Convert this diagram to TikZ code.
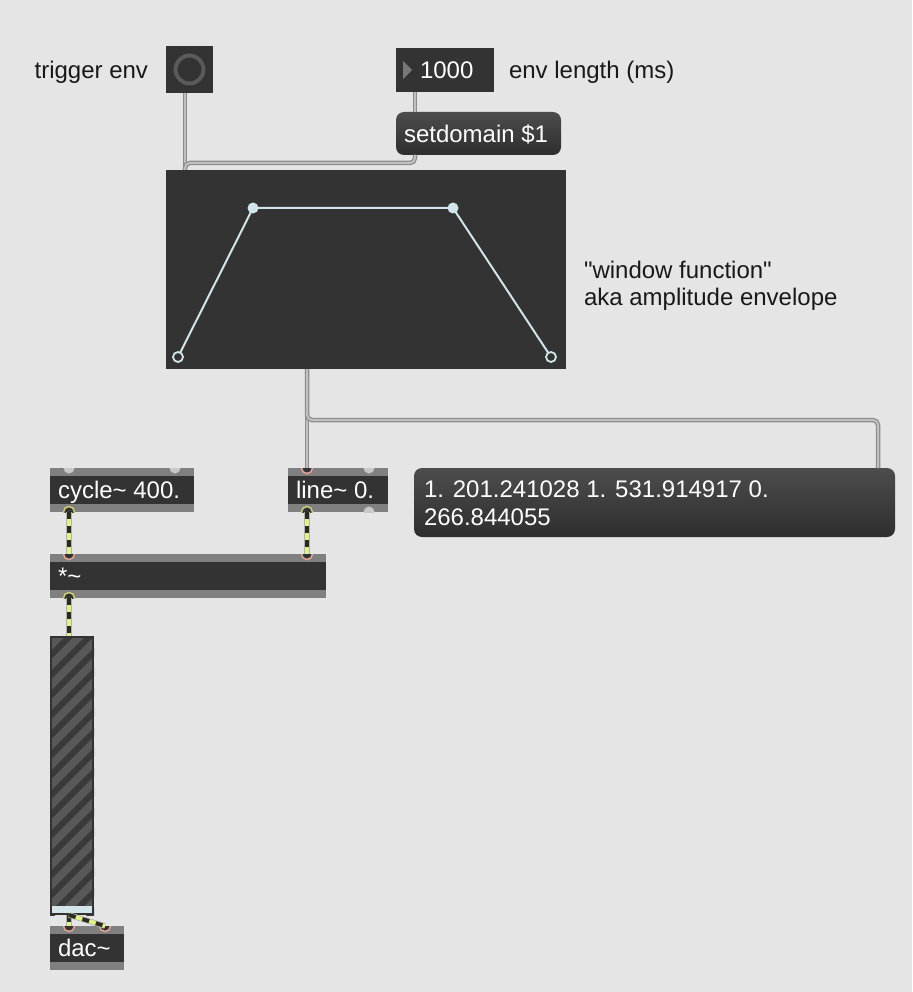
\documentclass[tikz,border=0pt]{standalone}
\usepackage{fontspec}
\setmainfont{Liberation Sans}
\usetikzlibrary{calc}
\definecolor{patchbg}{RGB}{229,229,229}
\definecolor{objdark}{RGB}{51,51,51}
\definecolor{objstrip}{RGB}{128,128,128}
\definecolor{portoff}{RGB}{200,200,200}
\definecolor{inring}{RGB}{232,164,150}
\definecolor{outring}{RGB}{206,206,120}
\definecolor{envline}{RGB}{208,228,234}
\definecolor{cableout}{RGB}{140,140,140}
\definecolor{cablein}{RGB}{192,192,192}
\definecolor{sigyellow}{RGB}{222,242,140}
\definecolor{sigdark}{RGB}{42,45,30}
\definecolor{meterfill}{RGB}{88,88,88}
\definecolor{meterstripe}{RGB}{58,58,58}
\definecolor{meterlow}{RGB}{212,228,234}
\definecolor{btnring}{RGB}{90,90,90}
\definecolor{numtri}{RGB}{120,120,120}
\tikzset{x=1pt, y=-1pt,
  patch font/.style={font=\fontsize{24}{28}\selectfont},
  comment/.style={patch font, text=black!90, inner sep=0pt, outer sep=0pt, anchor=base west},
  obj text/.style={patch font, text=white, inner sep=0pt, outer sep=0pt, anchor=base west},
  dark box/.style={fill=objdark, inner sep=0pt, outer sep=0pt, anchor=north west},
  max box/.style={fill=objstrip, inner sep=0pt, outer sep=0pt, minimum height=44pt, anchor=north west,
    path picture={\fill[objdark] ([yshift=-8pt]path picture bounding box.north west)
      rectangle ([yshift=8pt]path picture bounding box.south east);}},
  msg box/.style={inner sep=0pt, outer sep=0pt, anchor=north west, rounded corners=8pt,
    top color=black!70, bottom color=black!82},
  port off/.style={fill=portoff, draw=none},
  port in/.style={fill=objdark, draw=inring, line width=1.5pt},
  port out/.style={fill=objdark, draw=outring, line width=1.5pt},
  patch cable/.style={preaction={draw=cableout, line width=4.5pt, rounded corners=5pt},
    draw=cablein, line width=2pt, rounded corners=5pt},
  signal cable/.style={preaction={draw=black!30, line width=5.5pt},
    preaction={draw=sigyellow, line width=4pt},
    draw=sigdark, line width=4pt, dash pattern=on 7pt off 7pt},
  env point/.style={fill=envline},
  env open/.style={fill=objdark, draw=envline, line width=1.8pt}
}
\def\MaxObj#1#2#3#4#5{% name, x, y, width, text
  \node[max box, minimum width=#4] (#1) at (#2,#3) {};
  \node[obj text] (#1-label) at ([xshift=8pt, yshift=-8.6pt]#1.west) {#5};
}
\def\Port#1#2#3#4{% box, anchor, shift, style
  \begin{scope}
    \clip (#1.north west) rectangle (#1.south east);
    \filldraw[#4] ([xshift=#3]#1.#2) circle (5.5);
  \end{scope}
}
\begin{document}
\begin{tikzpicture}
\useasboundingbox (0,0) rectangle (912,992);
\fill[patchbg] (0,0) rectangle (912,992);

\node[dark box, minimum size=47pt] (btn) at (166,46) {};
\draw[btnring, line width=4pt] (btn.center) circle (14);
\node[comment, anchor=base east] (trig) at ([xshift=-18pt, yshift=-8.6pt]btn.west) {trigger env};

\node[dark box, minimum width=98pt, minimum height=44pt] (num) at (396,48) {};
\fill[numtri] ([xshift=7pt, yshift=9pt]num.west) -- ([xshift=16pt]num.west) -- ([xshift=7pt, yshift=-9pt]num.west) -- cycle;
\node[obj text] (num-label) at ([xshift=24pt, yshift=-8.6pt]num.west) {1000};
\node[comment] (envlen) at ([xshift=15pt, yshift=-8.6pt]num.east) {env length (ms)};

\node[msg box, minimum width=165pt, minimum height=43pt] (setd) at (396,112) {};
\node[obj text] (setd-label) at ([xshift=8pt, yshift=-8.6pt]setd.west) {setdomain \$1};

\node[dark box, minimum width=400pt, minimum height=199pt] (env) at (166,170) {};
\coordinate (p1) at (178,357);
\coordinate (p2) at (253,208);
\coordinate (p3) at (453,208);
\coordinate (p4) at (551,357);
\draw[envline, line width=2pt] (p1) -- (p2) -- (p3) -- (p4);
\foreach \p in {p2,p3}
  \fill[env point] (\p) circle (5.5);
\foreach \p in {p1,p4}
  \filldraw[env open] (\p) circle (5);
\node[comment] (wf1) at (584,278) {\textquotedbl window function\textquotedbl};
\node[comment] (wf2) at ([yshift=-27pt]wf1.base west) {aka amplitude envelope};

\MaxObj{cyc}{50}{468}{144}{cycle\textasciitilde{} 400.}
\MaxObj{ln}{288}{468}{100}{line\textasciitilde{} 0.}
\MaxObj{mul}{50}{554}{276}{*\textasciitilde}
\MaxObj{dac}{50}{926}{74}{dac\textasciitilde}

\node[msg box, minimum width=481pt, minimum height=69pt] (msg) at (414,468) {};
\node[obj text] (msg-l1) at (424,497) {1. 201.241028 1. 531.914917 0.};
\node[obj text] (msg-l2) at ([yshift=-28pt]msg-l1.base west) {266.844055};

\node[dark box, fill=meterfill, minimum width=44pt, minimum height=279pt] (meter) at (50,636) {};
\begin{scope}
  \clip (meter.north west) rectangle (meter.south east);
  \foreach \k in {0,...,17}
    \draw[meterstripe, line width=6pt] (50,{636+20*\k}) -- ++(60,-60);
\end{scope}
\fill[meterlow] ([yshift=9pt]meter.south west) rectangle (meter.south east);
\draw[objdark, line width=2pt] ([xshift=1pt, yshift=-1pt]meter.north west) rectangle ([xshift=-1pt, yshift=1pt]meter.south east);

\Port{cyc}{north west}{19pt}{port off}
\Port{cyc}{north east}{-19pt}{port off}
\Port{cyc}{south west}{19pt}{port out}
\Port{ln}{north west}{19pt}{port in}
\Port{ln}{north east}{-19pt}{port off}
\Port{ln}{south west}{19pt}{port out}
\Port{ln}{south east}{-19pt}{port off}
\Port{mul}{north west}{19pt}{port in}
\Port{mul}{north east}{-19pt}{port in}
\Port{mul}{south west}{19pt}{port out}
\Port{dac}{north west}{19pt}{port in}
\Port{dac}{north east}{-19pt}{port in}

\coordinate (btn-out) at ([xshift=19pt]btn.south west);
\coordinate (num-out) at ([xshift=19pt]num.south west);
\coordinate (setd-in) at ([xshift=19pt]setd.north west);
\coordinate (setd-out) at ([xshift=19pt]setd.south west);
\coordinate (env-in) at ([xshift=19pt]env.north west);
\coordinate (env-out) at ([xshift=141pt]env.south west);
\coordinate (ln-in) at ([xshift=19pt]ln.north west);
\coordinate (ln-out) at ([xshift=19pt]ln.south west);
\coordinate (msg-in) at ([xshift=-17pt]msg.north east);
\coordinate (cyc-out) at ([xshift=19pt]cyc.south west);
\coordinate (mul-in1) at ([xshift=19pt]mul.north west);
\coordinate (mul-in2) at ([xshift=-19pt]mul.north east);
\coordinate (mul-out) at ([xshift=19pt]mul.south west);
\coordinate (meter-in) at ([xshift=19pt]meter.north west);
\coordinate (meter-out) at ([xshift=19pt]meter.south west);
\coordinate (dac-in1) at ([xshift=19pt]dac.north west);
\coordinate (dac-in2) at ([xshift=-19pt]dac.north east);

\draw[patch cable] (btn-out) -- (env-in);
\draw[patch cable] (num-out) -- (setd-in);
\draw[patch cable] (setd-out) -- ++(0,8) -| (env-in);
\draw[patch cable] (env-out) -- (ln-in);
\draw[patch cable] (env-out) -- ++(0,51) -| (msg-in);

\draw[signal cable] (cyc-out) -- (mul-in1);
\draw[signal cable] (ln-out) -- (mul-in2);
\draw[signal cable] (mul-out) -- (meter-in);
\draw[signal cable] (meter-out) -- (dac-in1);
\draw[signal cable] (meter-out) -- (dac-in2);
\end{tikzpicture}
\end{document}
